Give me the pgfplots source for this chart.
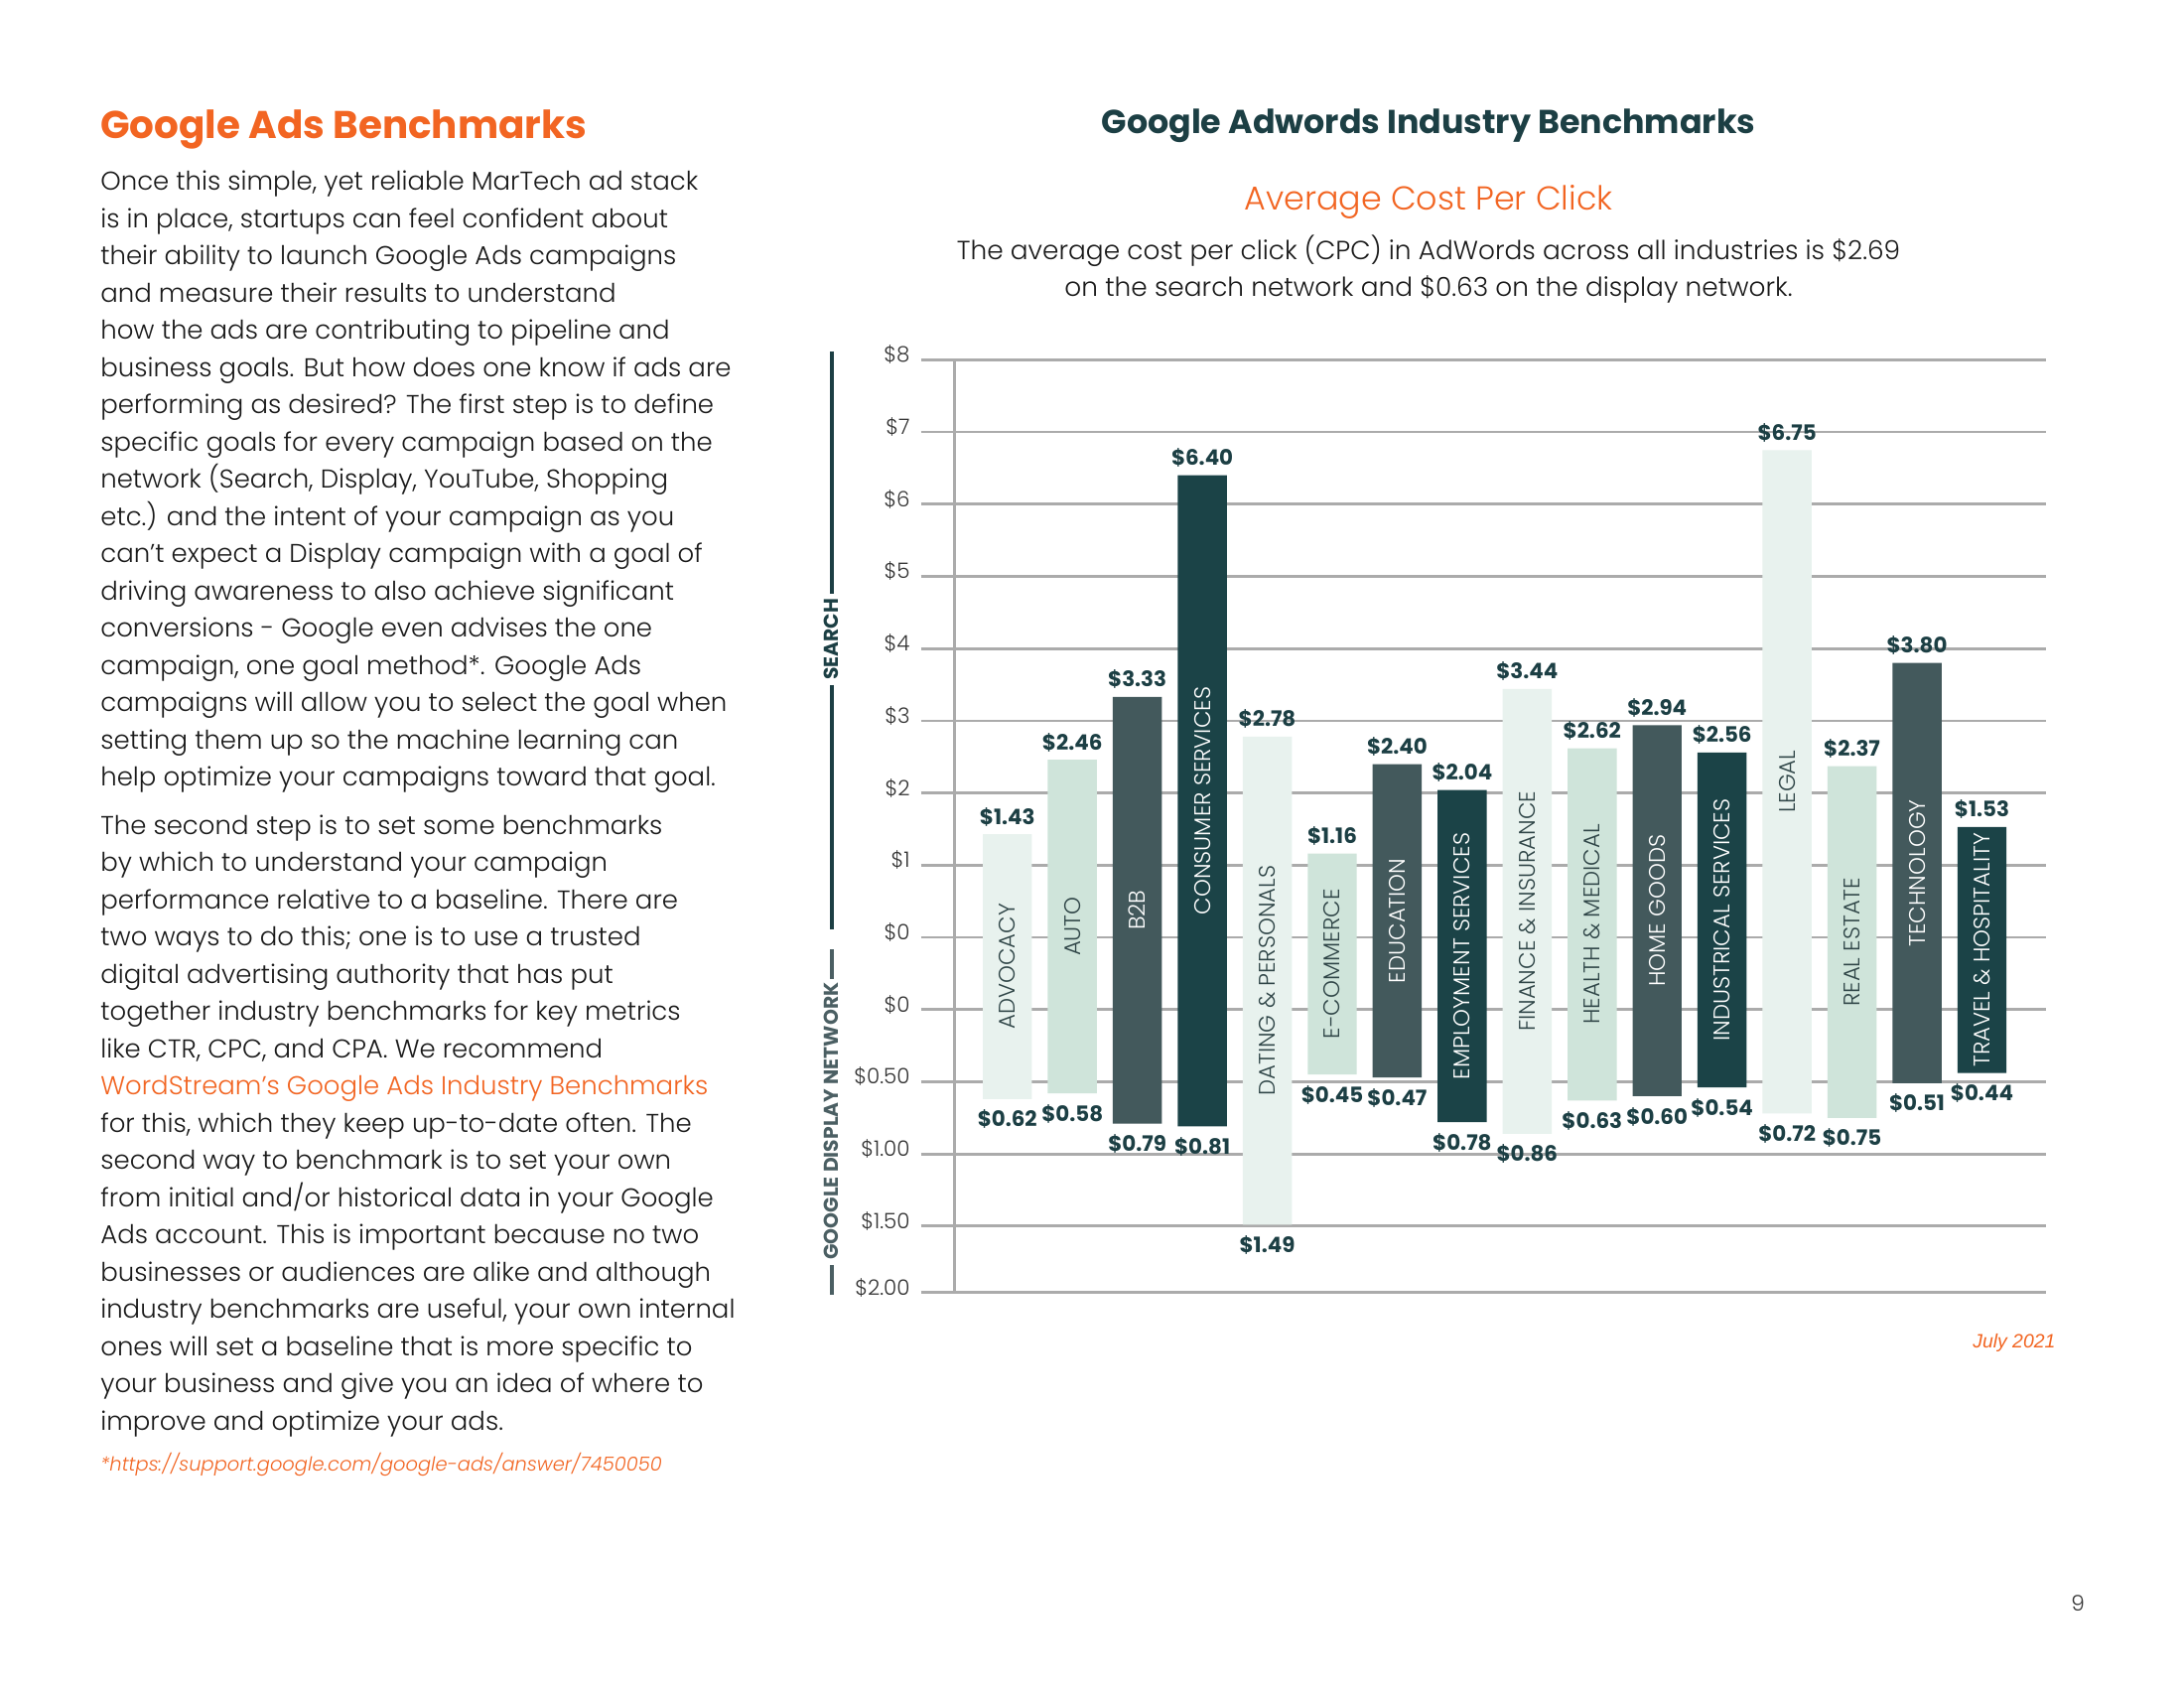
\documentclass[border=0pt]{standalone}
\usepackage{pgfplots}
\pgfplotsset{compat=1.18}
\usepackage{pgfplotstable}
\usepackage{fontspec}
\setmainfont{Poppins}[UprightFont=* Light, ItalicFont=* Light Italic, BoldFont=* Bold, BoldItalicFont=* Bold Italic]
\newfontfamily\libsans{Liberation Sans}
\definecolor{cA}{HTML}{E8F2EE}
\definecolor{cB}{HTML}{CFE4DA}
\definecolor{cC}{HTML}{43595C}
\definecolor{cD}{HTML}{1B4347}
\definecolor{dteal}{HTML}{1C3F44}
\definecolor{slate}{HTML}{4B5F63}
\definecolor{orng}{HTML}{F26522}
\definecolor{gridc}{HTML}{ABABAB}
\definecolor{tickc}{HTML}{333333}
\definecolor{bodyc}{HTML}{1A1A1A}
\definecolor{lbldark}{HTML}{2F4547}

% search value s is drawn at y = 5 + s ; display value d at y = 4 - 2d
\pgfplotstableread[col sep=comma]{
x,search,display,g,name
0,1.43,0.62,0,ADVOCACY
1,2.46,0.58,1,AUTO
2,3.33,0.79,2,B2B
3,6.40,0.81,3,CONSUMER SERVICES
4,2.78,1.49,0,DATING \& PERSONALS
5,1.16,0.45,1,E-COMMERCE
6,2.40,0.47,2,EDUCATION
7,2.04,0.78,3,EMPLOYMENT SERVICES
8,3.44,0.86,0,FINANCE \& INSURANCE
9,2.62,0.63,1,HEALTH \& MEDICAL
10,2.94,0.60,2,HOME GOODS
11,2.56,0.54,3,INDUSTRICAL SERVICES
12,6.75,0.72,0,LEGAL
13,2.37,0.75,1,REAL ESTATE
14,3.80,0.51,2,TECHNOLOGY
15,1.53,0.44,3,TRAVEL \& HOSPITALITY
}\cpc

\newcommand\bodyfont{\fontsize{9.35}{11}\selectfont}
\newcommand\pa[2]{\node[anchor=base west, inner sep=0pt, font=\bodyfont, text=bodyc] at (100.8,{191.7+37.5*#1}) {#2};}
\newcommand\pb[2]{\node[anchor=base west, inner sep=0pt, font=\bodyfont, text=bodyc] at (100.8,{840+37.5*#1}) {#2};}

\pgfplotsset{
  geom/.style={at={(333.97pt,-468.61pt)}, anchor=south west, scale only axis,
    width=407.84pt, height=338.15pt, xmin=-1.33, xmax=15.98, ymin=0.08, ymax=13},
}

\begin{document}
\begin{tikzpicture}
\path[fill=white] (0pt,0pt) rectangle (792pt,-612pt);

\begin{axis}[geom,
  ybar stacked, bar width=17.8pt,
  axis line style={draw=none}, tick style={draw=none},
  xtick=\empty,
  extra x ticks={-0.81}, extra x tick labels={}, extra x tick style={grid=major},
  ytick={0.08,1,2,3,4,5,6,7,8,9,10,11,12,13},
  yticklabels={\$2.00,\$1.50,\$1.00,\$0.50,\$0,\$0,\$1,\$2,\$3,\$4,\$5,\$6,\$7,\$8},
  ymajorgrids,
  major grid style={draw=gridc, line width=1pt},
  yticklabel style={font=\fontsize{7.7}{9}\selectfont, text=tickc, anchor=base east, inner sep=0pt, xshift=-3.8pt, yshift=-0.9pt},
]
\addplot[draw=none, fill=none] table[x=x, y expr={4-2*\thisrow{display}}] \cpc;
\addplot[draw=none, fill=cA] table[x=x, y expr={ifthenelse(\thisrow{g}==0, \thisrow{search}+1+2*\thisrow{display}, 0)}] \cpc;
\addplot[draw=none, fill=cB] table[x=x, y expr={ifthenelse(\thisrow{g}==1, \thisrow{search}+1+2*\thisrow{display}, 0)}] \cpc;
\addplot[draw=none, fill=cC] table[x=x, y expr={ifthenelse(\thisrow{g}==2, \thisrow{search}+1+2*\thisrow{display}, 0)}] \cpc;
\addplot[draw=none, fill=cD] table[x=x, y expr={ifthenelse(\thisrow{g}==3, \thisrow{search}+1+2*\thisrow{display}, 0)}] \cpc;
\end{axis}

\begin{axis}[geom, hide axis, clip=false]
% top labels (search)
\addplot[draw=none, mark=none, point meta=explicit symbolic,
  nodes near coords={\$\pgfplotspointmeta},
  nodes near coords style={font=\bfseries\fontsize{7.7}{9}\selectfont, text=dteal, anchor=base, inner sep=0pt, yshift=3.6pt}]
  table[x=x, y expr={5+\thisrow{search}}, meta=search] \cpc;
% bottom labels (display)
\addplot[draw=none, mark=none, point meta=explicit symbolic,
  nodes near coords={\$\pgfplotspointmeta},
  nodes near coords style={font=\bfseries\fontsize{7.7}{9}\selectfont, text=dteal, anchor=north, inner sep=0pt, yshift=-3.8pt}]
  table[x=x, y expr={4-2*\thisrow{display}}, meta=display] \cpc;
% category names, light bars
\addplot[draw=none, mark=none, point meta=explicit symbolic,
  restrict expr to domain={\thisrow{g}}{0:1},
  nodes near coords={\pgfplotspointmeta},
  nodes near coords style={font=\fontsize{8.2}{10}\selectfont, text=lbldark, anchor=center, rotate=90, inner sep=0pt}]
  table[x=x, y expr={(\thisrow{search}+9-2*\thisrow{display})/2}, meta=name] \cpc;
% category names, dark bars
\addplot[draw=none, mark=none, point meta=explicit symbolic,
  restrict expr to domain={\thisrow{g}}{2:3},
  nodes near coords={\pgfplotspointmeta},
  nodes near coords style={font=\fontsize{8.2}{10}\selectfont, text=white, anchor=center, rotate=90, inner sep=0pt}]
  table[x=x, y expr={(\thisrow{search}+9-2*\thisrow{display})/2}, meta=name] \cpc;
\end{axis}

\begin{scope}[x=0.36pt, y=-0.36pt]
% side brackets
\draw[dteal, line width=1.44pt] (837.7,354) -- (837.7,598) (837.7,690) -- (837.7,936);
\node[rotate=90, font=\bfseries\fontsize{7.3}{9}\selectfont, text=dteal, inner sep=0pt] at (837.7,644) {SEARCH};
\draw[slate, line width=1.44pt] (837.7,956) -- (837.7,986) (837.7,1274) -- (837.7,1304);
\node[rotate=90, font=\bfseries\fontsize{7.3}{9}\selectfont, text=slate, inner sep=0pt] at (837.7,1129) {GOOGLE DISPLAY NETWORK};

% right titles
\node[anchor=base, inner sep=0pt, font=\bfseries\fontsize{12}{14}\selectfont, text=dteal] at (1439,135) {Google Adwords Industry Benchmarks};
\node[anchor=base, inner sep=0pt, font=\fontsize{12}{14}\selectfont, text=orng] at (1439,211.7) {Average Cost Per Click};
\node[anchor=base, inner sep=0pt, font=\fontsize{9.5}{11}\selectfont, text=bodyc] at (1439,261.7) {The average cost per click (CPC) in AdWords across all industries is \$2.69};
\node[anchor=base, inner sep=0pt, font=\fontsize{9.5}{11}\selectfont, text=bodyc] at (1439,298.3) {on the search network and \$0.63 on the display network.};
\node[anchor=base west, inner sep=0pt, font=\libsans\itshape\fontsize{7}{8}\selectfont, text=orng] at (1986.7,1357.3) {July 2021};
\node[anchor=base, inner sep=0pt, font=\fontsize{7.8}{9}\selectfont, text=tickc] at (2093,1622.7) {9};

% left column
\node[anchor=base west, inner sep=0pt, font=\bfseries\fontsize{14}{16}\selectfont, text=orng] at (100.8,139.3) {Google Ads Benchmarks};
\pa{0}{Once this simple, yet reliable MarTech ad stack}
\pa{1}{is in place, startups can feel confident about}
\pa{2}{their ability to launch Google Ads campaigns}
\pa{3}{and measure their results to understand}
\pa{4}{how the ads are contributing to pipeline and}
\pa{5}{business goals. But how does one know if ads are}
\pa{6}{performing as desired? The first step is to define}
\pa{7}{specific goals for every campaign based on the}
\pa{8}{network (Search, Display, YouTube, Shopping}
\pa{9}{etc.) and the intent of your campaign as you}
\pa{10}{can’t expect a Display campaign with a goal of}
\pa{11}{driving awareness to also achieve significant}
\pa{12}{conversions - Google even advises the one}
\pa{13}{campaign, one goal method*. Google Ads}
\pa{14}{campaigns will allow you to select the goal when}
\pa{15}{setting them up so the machine learning can}
\pa{16}{help optimize your campaigns toward that goal.}
\pb{0}{The second step is to set some benchmarks}
\pb{1}{by which to understand your campaign}
\pb{2}{performance relative to a baseline. There are}
\pb{3}{two ways to do this; one is to use a trusted}
\pb{4}{digital advertising authority that has put}
\pb{5}{together industry benchmarks for key metrics}
\pb{6}{like CTR, CPC, and CPA. We recommend}
\pb{7}{\color{orng}WordStream’s Google Ads Industry Benchmarks}
\pb{8}{for this, which they keep up-to-date often. The}
\pb{9}{second way to benchmark is to set your own}
\pb{10}{from initial and/or historical data in your Google}
\pb{11}{Ads account. This is important because no two}
\pb{12}{businesses or audiences are alike and although}
\pb{13}{industry benchmarks are useful, your own internal}
\pb{14}{ones will set a baseline that is more specific to}
\pb{15}{your business and give you an idea of where to}
\pb{16}{improve and optimize your ads.}
\node[anchor=base west, inner sep=0pt, font=\itshape\fontsize{7}{9}\selectfont, text=orng] at (100.8,1481.7) {*https://support.google.com/google-ads/answer/7450050};
\end{scope}
\end{tikzpicture}
\end{document}
